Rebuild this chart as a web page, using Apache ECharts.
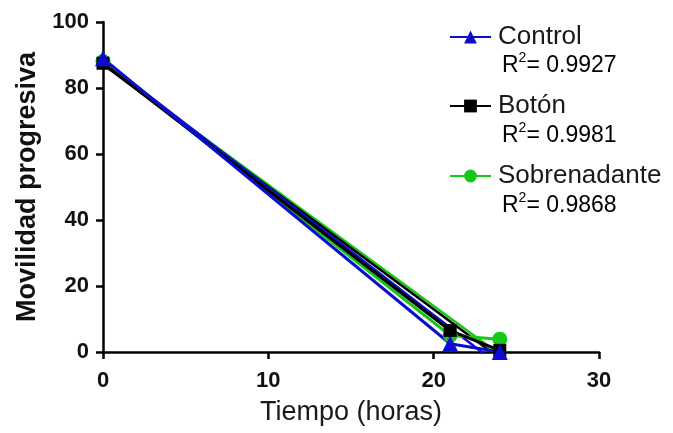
<!DOCTYPE html>
<html>
<head>
<meta charset="utf-8">
<script src="https://cdn.jsdelivr.net/npm/echarts@6/dist/echarts.min.js"></script>
<style>
  html, body { margin: 0; padding: 0; background: #fff; }
  #chart { width: 673px; height: 433px; }
</style>
</head>
<body>
<div id="chart"></div>
<script>
// Sampling times (hours)
const hours = [0, 21, 24];
// Progressive motility per group
const control = [89, 2.5, 0];
const boton = [87.5, 6.5, 0.5];
const sobrenadante = [88, 5, 3.9];
// Group names and reported R² of the linear fits
const groupNames = ['Control', 'Botón', 'Sobrenadante'];
const r2Values = ['0.9927', '0.9981', '0.9868'];
// Axis ticks
const xTicks = [0, 10, 20, 30];
const yTicks = [0, 20, 40, 60, 80, 100];

const colors = ['#0c0cd0', '#000000', '#16c816'];
const symbols = ['triangle', 'rect', 'circle'];
const symbolSizes = [16, 13, 15];
const groups = [control, boton, sobrenadante];

// Least-squares line through a group's points
function linearFit(xs, ys) {
  const n = xs.length;
  const mx = xs.reduce((a, b) => a + b, 0) / n;
  const my = ys.reduce((a, b) => a + b, 0) / n;
  let sxy = 0, sxx = 0;
  for (let i = 0; i < n; i++) {
    sxy += (xs[i] - mx) * (ys[i] - my);
    sxx += (xs[i] - mx) * (xs[i] - mx);
  }
  const slope = sxy / sxx;
  const icpt = my - slope * mx;
  const x0 = Math.min(...xs), x1 = Math.max(...xs);
  return [[x0, icpt + slope * x0], [x1, icpt + slope * x1]];
}

const FONT = 'Liberation Sans, Arial, sans-serif';
const series = [];
// draw order: green at the bottom, blue on top
[2, 1, 0].forEach(function (g) {
  series.push({
    name: groupNames[g] + ' fit',
    type: 'line',
    data: linearFit(hours, groups[g]),
    showSymbol: false,
    symbol: 'none',
    clip: true,
    silent: true,
    lineStyle: { color: colors[g], width: 2.5 },
    z: 2
  });
});
[2, 1, 0].forEach(function (g) {
  series.push({
    name: groupNames[g],
    type: 'line',
    data: hours.map((h, i) => [h, groups[g][i]]),
    symbol: symbols[g],
    symbolSize: symbolSizes[g],
    clip: false,
    color: colors[g],
    itemStyle: { color: colors[g] },
    lineStyle: { color: colors[g], width: 3 },
    z: 3
  });
});

const legendTops = [19, 88, 158];
const legends = groupNames.map(function (name, g) {
  return {
    data: [name],
    orient: 'vertical',
    left: 444,
    top: legendTops[g],
    itemWidth: 41,
    itemHeight: 16,
    selectedMode: false,
    textStyle: {
      fontFamily: FONT,
      fontSize: 26,
      color: '#1a1a1a',
      padding: [0, 0, 0, 2]
    }
  };
});

const r2Tops = [51, 121, 191];
const graphics = r2Values.map(function (v, g) {
  return {
    type: 'text',
    left: 502,
    top: r2Tops[g],
    style: {
      text: '{r|R}{s|2}{r|= ' + v + '}',
      rich: {
        r: { fontFamily: FONT, fontSize: 23, color: '#1a1a1a', lineHeight: 26, verticalAlign: 'bottom' },
        s: { fontFamily: FONT, fontSize: 14, color: '#1a1a1a', lineHeight: 26, verticalAlign: 'top' }
      }
    }
  };
});

const chart = echarts.init(document.getElementById('chart'), null, { renderer: 'canvas' });
chart.setOption({
  animation: false,
  backgroundColor: '#ffffff',
  grid: { left: 103, right: 74, top: 22, bottom: 81, containLabel: false },
  legend: legends,
  graphic: graphics,
  xAxis: {
    type: 'value',
    min: xTicks[0],
    max: xTicks[xTicks.length - 1],
    interval: xTicks[1] - xTicks[0],
    name: 'Tiempo (horas)',
    nameLocation: 'middle',
    nameGap: 47,
    nameTextStyle: { fontFamily: FONT, fontSize: 27, color: '#1a1a1a' },
    axisLine: { onZero: false, lineStyle: { color: '#000', width: 2.5 } },
    axisTick: { show: true, length: 7, lineStyle: { color: '#000', width: 2.5 } },
    axisLabel: { fontFamily: FONT, fontSize: 22, fontWeight: 'bold', color: '#111', margin: 18 },
    splitLine: { show: false }
  },
  yAxis: {
    type: 'value',
    min: yTicks[0],
    max: yTicks[yTicks.length - 1],
    interval: yTicks[1] - yTicks[0],
    name: 'Movilidad progresiva',
    nameLocation: 'middle',
    nameGap: 58,
    nameTextStyle: { fontFamily: FONT, fontSize: 27, fontWeight: 'bold', color: '#111' },
    axisLine: { show: true, onZero: false, lineStyle: { color: '#000', width: 2.5 } },
    axisTick: { show: true, length: 7, lineStyle: { color: '#000', width: 2.5 } },
    axisLabel: { fontFamily: FONT, fontSize: 22, fontWeight: 'bold', color: '#111', margin: 14 },
    splitLine: { show: false }
  },
  series: series
});
</script>
</body>
</html>
